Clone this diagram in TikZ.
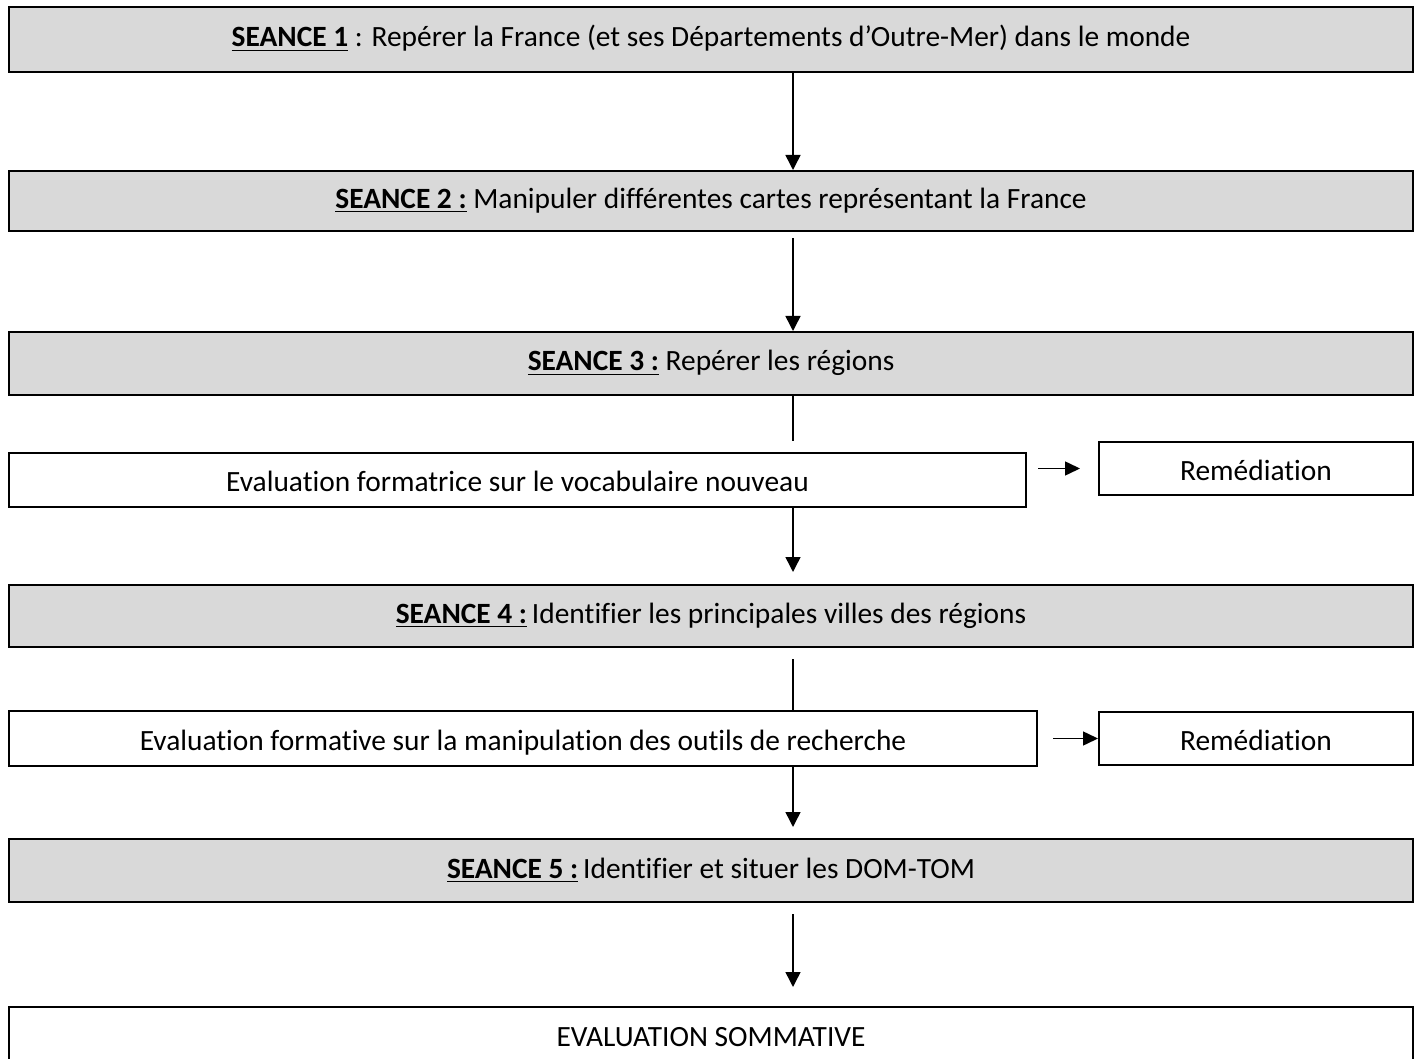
\documentclass[tikz,border=0pt]{standalone}
\usepackage{fontspec}
\setmainfont{Carlito}[Ligatures={NoCommon}]
\usetikzlibrary{arrows.meta}
\definecolor{boxgray}{HTML}{D9D9D9}
\begin{document}
\begin{tikzpicture}[x=0.5pt,y=-0.5pt,
  gbox/.style={draw, line width=1pt, fill=boxgray, minimum width=702pt, inner sep=0pt,
    font=\fontsize{14.7}{17}\selectfont, text height=7.5pt, text depth=0pt},
  wbox/.style={draw, line width=1pt, fill=white, inner sep=0pt,
    font=\fontsize{14.7}{17}\selectfont, text height=11.8pt, text depth=0pt},
  arr/.style={line width=0.75pt, -{Triangle[length=7.5pt,width=7.5pt]}},
  sarr/.style={line width=0.75pt, -{Triangle[length=7.5pt,width=7pt]}},
  ln/.style={line width=0.75pt}]
\useasboundingbox (0,0) rectangle (1420,1059);
\clip (0,0) rectangle (1420,1059);
\coordinate (ax) at (793,0);

\node[gbox, minimum height=32.5pt] (b1) at (711,39.5) {\underline{\textbf{SEANCE 1}} : Repérer la France (et ses Départements d’Outre-Mer) dans le monde};
\node[gbox, minimum height=30pt] (b2) at (711,201) {\underline{\textbf{SEANCE 2 :}} Manipuler différentes cartes représentant la France};
\node[gbox, minimum height=31.5pt] (b3) at (711,363.5) {\underline{\textbf{SEANCE 3 :}} Repérer les régions};
\node[wbox, minimum width=508.5pt, minimum height=27pt] (e1) at (517.5,480) {Evaluation formatrice sur le vocabulaire nouveau};
\node[wbox, minimum width=157pt, minimum height=26.5pt] (r1) at (1256,468.5) {Remédiation};
\node[gbox, minimum height=31pt] (b4) at (711,616) {\underline{\textbf{SEANCE 4 :}}\,Identifier les principales villes des régions};
\node[wbox, minimum width=514pt, minimum height=27.5pt] (e2) at (523,738.5) {Evaluation formative sur la manipulation des outils de recherche};
\node[wbox, minimum width=157pt, minimum height=26.5pt] (r2) at (1256,738.5) {Remédiation};
\node[gbox, minimum height=31.5pt] (b5) at (711,870.5) {\underline{\textbf{SEANCE 5 :}}\,Identifier et situer les DOM-TOM};
\node[wbox, minimum width=702pt, minimum height=28pt] (fin) at (711,1035) {EVALUATION SOMMATIVE};

\draw[arr] (b1.south -| ax) -- (b2.north -| ax);
\draw[arr, shorten <=3pt] (b2.south -| ax) -- (b3.north -| ax);
\draw[ln, shorten >=5.5pt] (b3.south -| ax) -- (e1.north -| ax);
\draw[arr, shorten >=6pt] (e1.south -| ax) -- (b4.north -| ax);
\draw[sarr, shorten <=5.5pt, shorten >=9pt] (e1.east |- r1.west) -- (r1.west);
\draw[ln, shorten <=5.5pt] (b4.south -| ax) -- (e2.north -| ax);
\draw[sarr, shorten <=7.5pt] (e2.east) -- (r2.west);
\draw[arr, shorten >=5.5pt] (e2.south -| ax) -- (b5.north -| ax);
\draw[arr, shorten <=5.5pt, shorten >=9.5pt] (b5.south -| ax) -- (fin.north -| ax);
\end{tikzpicture}
\end{document}
